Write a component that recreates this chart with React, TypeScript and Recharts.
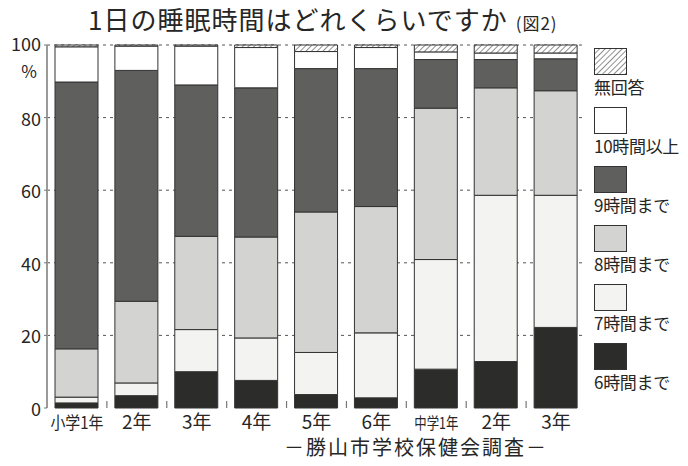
import React from 'react';
import { BarChart, Bar, XAxis, YAxis, CartesianGrid } from 'recharts';

const grades = ['小学1年', '2年', '3年', '4年', '5年', '6年', '中学1年', '2年', '3年'];
const h6 = [1.4, 3.4, 10.0, 7.6, 3.7, 2.8, 10.7, 12.8, 22.2];
const h7 = [1.6, 3.5, 11.6, 11.7, 11.6, 17.9, 30.2, 45.8, 36.4];
const h8 = [13.3, 22.5, 25.7, 27.8, 38.7, 34.8, 41.7, 29.6, 28.8];
const h9 = [73.5, 63.6, 41.7, 41.1, 39.5, 38.0, 13.4, 7.8, 8.8];
const h10 = [9.7, 6.7, 10.7, 11.1, 4.7, 5.8, 2.1, 1.8, 1.6];
const noAnswer = [0.5, 0.3, 0.3, 0.7, 1.8, 0.7, 1.9, 2.2, 2.2];

const yTicks = [0, 20, 40, 60, 80, 100];

const seriesKeys = ['h6', 'h7', 'h8', 'h9', 'h10', 'na'];
const seriesNames = ['6時間まで', '7時間まで', '8時間まで', '9時間まで', '10時間以上', '無回答'];
const seriesFills = ['#2c2c2a', '#f3f3f1', '#d3d3d1', '#5f5f5d', '#ffffff', 'url(#hatch)'];

const data = grades.map((g, i) => ({
  grade: g,
  h6: h6[i],
  h7: h7[i],
  h8: h8[i],
  h9: h9[i],
  h10: h10[i],
  na: noAnswer[i],
}));

const FONT = '"Noto Sans CJK JP", "Noto Sans", sans-serif';
const TEXT = '#262626';

const YTick = (props: any) => {
  const { x, y, payload } = props;
  const isTop = payload.value === 100;
  return (
    <g>
      <text x={x + 1} y={y + (isTop ? 6 : 8)} textAnchor="end" fontSize={18} fill={TEXT} fontFamily={FONT}>
        {payload.value}
      </text>
      {isTop && (
        <text x={x - 3} y={y + 33} textAnchor="end" fontSize={17} fill={TEXT} fontFamily={FONT}>
          %
        </text>
      )}
    </g>
  );
};

const XTick = (props: any) => {
  const { x, y, payload, index } = props;
  const label = payload.value as string;
  const isLong = label.length > 2;
  const half = 29.95;
  return (
    <g>
      {index > 0 && (
        <line x1={x - half} x2={x - half} y1={y} y2={y - 7} stroke="#777" strokeWidth={1.2} />
      )}
      {isLong ? (
        <text
          x={x}
          y={y + 21}
          textAnchor="middle"
          fontSize={index === 0 ? 17 : 16}
          fill={TEXT}
          fontFamily={FONT}
          textLength={index === 0 ? 53 : 44}
          lengthAdjust="spacingAndGlyphs"
        >
          {label}
        </text>
      ) : (
        <text x={x} y={y + 21} textAnchor="middle" fontSize={19} fill={TEXT} fontFamily={FONT}>
          {label}
        </text>
      )}
    </g>
  );
};

const legendOrder = [5, 4, 3, 2, 1, 0];

export default function App() {
  return (
    <div style={{ position: 'absolute', left: 0, top: 0, width: 688, height: 466, background: '#fff', fontFamily: FONT }}>
      <svg width={0} height={0} style={{ position: 'absolute' }}>
        <defs>
          <pattern id="hatch" patternUnits="userSpaceOnUse" width={4} height={4} patternTransform="rotate(45)">
            <rect width={4} height={4} fill="#ffffff" />
            <line x1={0} y1={0} x2={0} y2={4} stroke="#555" strokeWidth={1.3} />
          </pattern>
        </defs>
      </svg>
      <div
        style={{
          position: 'absolute',
          left: 88,
          top: 2,
          whiteSpace: 'nowrap',
          color: TEXT,
          fontSize: 26,
          letterSpacing: 1,
          lineHeight: '34px',
        }}
      >
        1日の睡眠時間はどれくらいですか
        <span style={{ fontSize: 17, marginLeft: 8, letterSpacing: 1 }}>(図2)</span>
      </div>
      <BarChart
        width={688}
        height={466}
        data={data}
        margin={{ top: 45, right: 102, bottom: 28, left: 7 }}
        barSize={43}
      >
        <CartesianGrid
          vertical={false}
          horizontalValues={[20, 40, 60, 80, 100]}
          stroke="#555"
          strokeDasharray="3 4"
        />
        <XAxis
          dataKey="grade"
          height={30}
          axisLine={false}
          tickLine={false}
          tickSize={0}
          tickMargin={0}
          interval={0}
          tick={<XTick />}
        />
        <YAxis
          width={40}
          domain={[0, 100]}
          ticks={yTicks}
          interval={0}
          axisLine={{ stroke: '#9a9a9a', strokeWidth: 2 }}
          tickLine={{ stroke: '#777' }}
          tickSize={3}
          tickMargin={4}
          tick={<YTick />}
        />
        {seriesKeys.map((k, i) => (
          <Bar
            key={k}
            dataKey={k}
            name={seriesNames[i]}
            stackId="s"
            fill={seriesFills[i]}
            stroke="#333"
            strokeWidth={1}
            isAnimationActive={false}
          />
        ))}
      </BarChart>
      <div style={{ position: 'absolute', left: 594, top: 48, color: TEXT }}>
        {legendOrder.map((i) => (
          <div key={i} style={{ height: 59 }}>
            <svg width={34} height={28} style={{ display: 'block' }}>
              <rect x={0.5} y={0.5} width={32} height={26} fill={seriesFills[i]} stroke="#333" strokeWidth={1} />
            </svg>
            <div style={{ fontSize: 17, lineHeight: '20px', marginTop: 1, whiteSpace: 'nowrap', letterSpacing: -0.3 }}>
              {seriesNames[i]}
            </div>
          </div>
        ))}
      </div>
      <div
        style={{
          position: 'absolute',
          left: 284,
          top: 433,
          fontSize: 20,
          letterSpacing: 2,
          color: TEXT,
          whiteSpace: 'nowrap',
          lineHeight: '28px',
        }}
      >
        －勝山市学校保健会調査－
      </div>
    </div>
  );
}
